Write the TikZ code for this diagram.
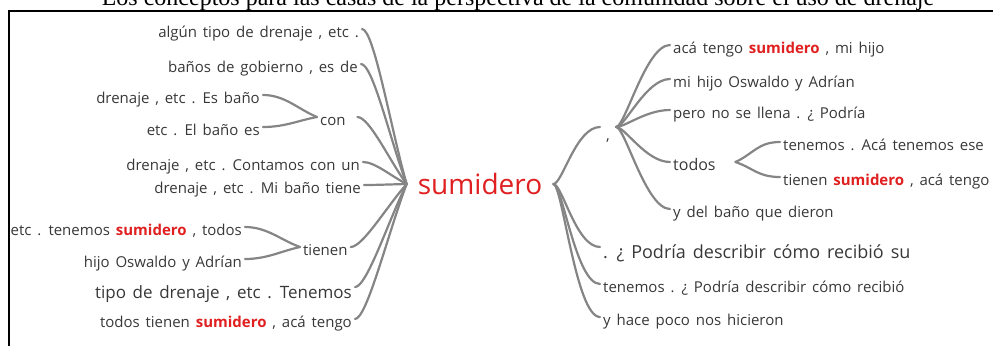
\documentclass[tikz,border=0pt]{standalone}
\usepackage{fontspec}
\setmainfont{Open Sans}[WordSpace=1.5]
\newfontfamily\topserif{Liberation Serif}
\usetikzlibrary{calc}
\definecolor{brc}{HTML}{858585}
\definecolor{txt}{HTML}{383838}
\definecolor{hl}{HTML}{E02020}
\newcommand{\hiword}{\textcolor{hl}{\bfseries sumidero}}
% leaf (east) -> hub, ">" shape
\newcommand{\tohub}[3]{\draw[brl] (#1.east) .. controls +(#3,0) and ($(#2)!0.35!(#1.east)$) .. (#2);}
% hub -> leaf (west), "{" shape
\newcommand{\toleaf}[2]{\draw[brl] (#1) .. controls +(9,0) and +(-24,0) .. (#2.west);}
% hub -> leaf (west), "<" shape
\newcommand{\fanleaf}[2]{\draw[brl] (#1) .. controls ($(#1)!0.4!(#2.west)$) and +(-22,0) .. (#2.west);}
\begin{document}
\begin{tikzpicture}[x=1pt,y=-1pt,
  leaf/.style={font=\fontsize{15}{17}\selectfont, text=txt, inner xsep=3pt, inner ysep=2pt, text height=16pt, text depth=0pt},
  bigleaf/.style={leaf, font=\fontsize{17}{20}\selectfont, text height=22pt},
  lft/.style={anchor=base east},
  rgt/.style={anchor=base west},
  brl/.style={draw=brc, line width=2.2pt, line cap=round}]
\useasboundingbox (0,0) rectangle (993,346);
\begin{scope}
  \clip (0,0) rectangle (993,346);
  \node[font=\topserif\fontsize{24}{26}\selectfont, anchor=base, inner sep=0pt] (top) at (518,5)
    {Los conceptos para las casas de la perspectiva de la comunidad sobre el uso de drenaje};
\end{scope}
\draw[line width=2.5pt] (9,346) -- (9,11) -- (993,11);

% centre
\node[font=\fontsize{28}{30}\selectfont, text=hl, inner xsep=11pt, inner ysep=2pt] (main) at (480,184) {sumidero};

% left side
\node[leaf,lft] (L1) at (362,37) {algún tipo de drenaje , etc .};
\node[leaf,lft] (L2) at (361,72) {baños de gobierno , es de};
\node[leaf,rgt,text width=34pt,align=left] (con) at (317,125) {con};
\node[leaf,lft] (C1) at (263,103) {drenaje , etc . Es baño};
\node[leaf,lft] (C2) at (263,135) {etc . El baño es};
\node[leaf,lft] (L4) at (363,170) {drenaje , etc . Contamos con un};
\node[leaf,lft] (L5) at (364,193) {drenaje , etc . Mi baño tiene};
\node[leaf,rgt] (tienen) at (300,255) {tienen};
\node[leaf,lft] (T1) at (245,235) {etc . tenemos \hiword{} , todos};
\node[leaf,lft] (T2) at (245,267) {hijo Oswaldo y Adrían};
\node[bigleaf,lft] (L7) at (355,298) {tipo de drenaje , etc . Tenemos};
\node[leaf,lft] (L8) at (355,327) {todos tienen \hiword{} , acá tengo};

\tohub{L1}{main.west}{12}
\tohub{L2}{main.west}{12}
\tohub{con}{main.west}{12}
\tohub{L4}{main.west}{12}
\tohub{L5}{main.west}{12}
\tohub{tienen}{main.west}{12}
\tohub{L7}{main.west}{12}
\tohub{L8}{main.west}{12}
\tohub{C1}{con.west}{22}
\tohub{C2}{con.west}{22}
\tohub{T1}{tienen.west}{22}
\tohub{T2}{tienen.west}{22}

% right side
\node[leaf,rgt,text height=26pt,inner xsep=6pt] (comma) at (600,140) {,};
\node[leaf,rgt] (R1) at (670,53) {acá tengo \hiword{} , mi hijo};
\node[leaf,rgt] (R2) at (670,87) {mi hijo Oswaldo y Adrían};
\node[leaf,rgt] (R3) at (670,118) {pero no se llena . ¿ Podría};
\node[leaf,rgt,font=\fontsize{16}{18}\selectfont,text width=59pt,align=left] (todos) at (670,170) {todos};
\node[leaf,rgt] (RT1) at (780,150) {tenemos . Acá tenemos ese};
\node[leaf,rgt] (RT2) at (780,185) {tienen \hiword{} , acá tengo};
\node[leaf,rgt] (R5) at (670,217) {y del baño que dieron};
\node[bigleaf,rgt,font=\fontsize{18}{21}\selectfont] (R6) at (600,258) {. ¿ Podría describir cómo recibió su};
\node[leaf,rgt] (R7) at (600,292) {tenemos . ¿ Podría describir cómo recibió};
\node[leaf,rgt] (R8) at (600,325) {y hace poco nos hicieron};

\toleaf{main.east}{comma}
\toleaf{main.east}{R6}
\toleaf{main.east}{R7}
\toleaf{main.east}{R8}
\toleaf{comma.east}{R1}
\toleaf{comma.east}{R2}
\toleaf{comma.east}{R3}
\toleaf{comma.east}{todos}
\toleaf{comma.east}{R5}
\fanleaf{todos.east}{RT1}
\fanleaf{todos.east}{RT2}
\end{tikzpicture}
\end{document}
